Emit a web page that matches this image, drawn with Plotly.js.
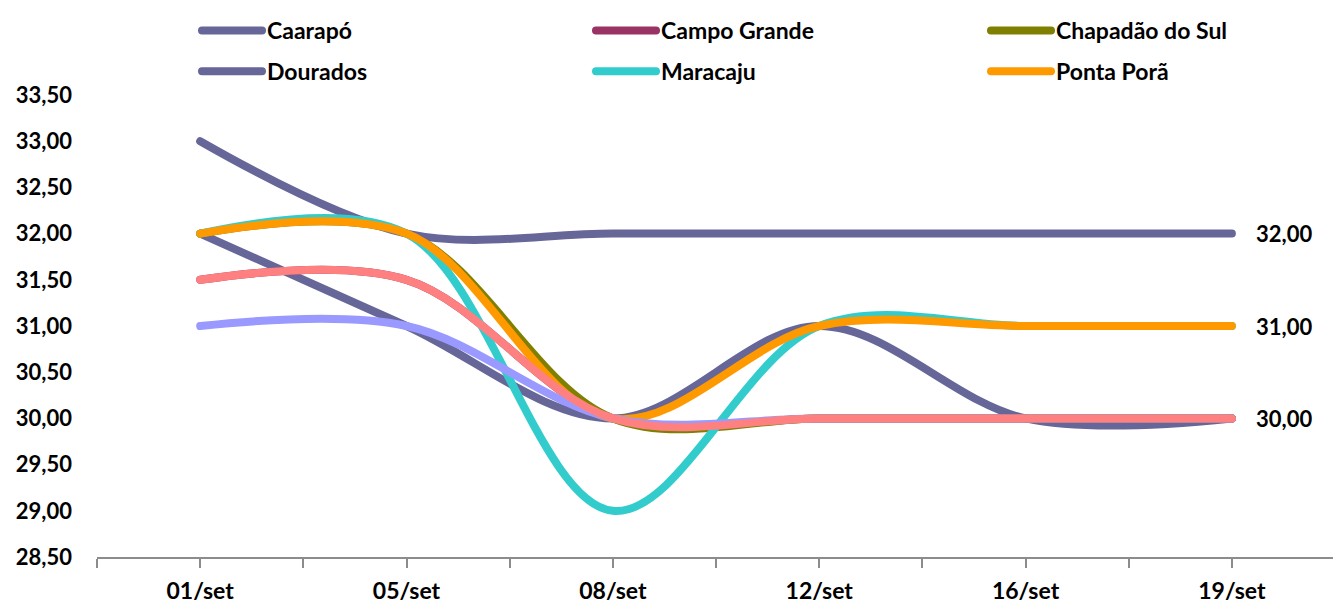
<!DOCTYPE html>
<html>
<head>
<meta charset="utf-8">
<script src="https://cdn.plot.ly/plotly-3.0.1.min.js"></script>
<style>
html,body{margin:0;padding:0;background:#fff;}
#chart{width:1333px;height:604px;}
.scatterlayer .js-line{stroke-linecap:round;stroke-linejoin:round;}
.legendlines path{stroke-linecap:round;}
</style>
</head>
<body>
<div id="chart"></div>
<script>
// ---- data ----
const categories = ["01/set", "05/set", "08/set", "12/set", "16/set", "19/set"];
const seriesNames = ["Caarapó", "Campo Grande", "Chapadão do Sul", "Dourados", "Maracaju", "Ponta Porã", "", ""];
const caarapo      = [32.0, 31.0, 30.0, 31.0, 30.0, 30.0];
const campoGrande  = [31.5, 31.5, 30.0, 30.0, 30.0, 30.0];
const chapadao     = [32.0, 32.0, 30.0, 30.0, 30.0, 30.0];
const dourados     = [33.0, 32.0, 32.0, 32.0, 32.0, 32.0];
const maracaju     = [32.0, 32.0, 29.0, 31.0, 31.0, 31.0];
const pontaPora    = [32.0, 32.0, 30.0, 31.0, 31.0, 31.0];
const serie7       = [31.0, 31.0, 30.0, 30.0, 30.0, 30.0];
const serie8       = [31.5, 31.5, 30.0, 30.0, 30.0, 30.0];
const yTicks = [28.5, 29.0, 29.5, 30.0, 30.5, 31.0, 31.5, 32.0, 32.5, 33.0, 33.5];
// end labels shown on these series
const labelled = [3, 5, 7];

// ---- style ----
const colors = ["#666699", "#993366", "#808000", "#666699", "#33CCCC", "#FF9900", "#9999FF", "#FF8080"];
const allSeries = [caarapo, campoGrande, chapadao, dourados, maracaju, pontaPora, serie7, serie8];
// legend columns: legend (col 1), legend2 (col 2), legend3 (col 3)
const legendOf = ["legend", "legend2", "legend3", "legend", "legend2", "legend3", null, null];
const FONT = "Lato, 'Open Sans', sans-serif";

const xIdx = categories.map((c, i) => i);

const traces = allSeries.map((ys, k) => ({
  type: "scatter",
  mode: "lines",
  name: seriesNames[k],
  x: xIdx,
  y: ys,
  line: {color: colors[k], width: 8, shape: "spline", smoothing: 1},
  showlegend: legendOf[k] !== null,
  legend: legendOf[k] || "legend",
  legendgroup: "g" + k,
  hoverinfo: "skip"
}));

// tick positions (every half category) with labels on categories
const tickVals = [];
const tickText = [];
for (let i = -1; i <= 2 * categories.length - 1; i++) {
  const v = i / 2;
  tickVals.push(v);
  tickText.push(Number.isInteger(v) && v >= 0 && v < categories.length ? categories[v] : "");
}

const fmt = v => v.toFixed(2).replace(".", ",");
const last = categories.length - 1;
const annotations = labelled.map(k => ({
  x: last, y: allSeries[k][last], xref: "x", yref: "y",
  text: fmt(allSeries[k][last]),
  showarrow: false, xanchor: "left", yanchor: "middle", xshift: 22,
  font: {family: FONT, size: 22, color: "#000", weight: 700}
}));

const axisColor = "#8c8c8c";
const legendBase = (xpx) => ({
  orientation: "v", xref: "container", yref: "container",
  x: xpx / 1333, y: 1 - 51 / 604, xanchor: "left", yanchor: "middle",
  itemwidth: 60, tracegroupgap: 8,
  font: {family: FONT, size: 23, color: "#000", weight: 700},
  bgcolor: "rgba(0,0,0,0)", traceorder: "grouped"
});

const layout = {
  width: 1333, height: 604,
  margin: {l: 97, r: 0, t: 95, b: 47, autoexpand: false},
  paper_bgcolor: "#fff", plot_bgcolor: "#fff",
  separators: ",.",
  font: {family: FONT, size: 22, color: "#000", weight: 700},
  showlegend: true,
  xaxis: {
    range: [-0.5, categories.length - 0.51],
    tickmode: "array", tickvals: tickVals, ticktext: tickText,
    ticks: "outside", ticklen: 9, tickwidth: 2, tickcolor: axisColor,
    showline: true, linecolor: axisColor, linewidth: 2,
    showgrid: false, zeroline: false,
    tickfont: {family: FONT, size: 23, color: "#000", weight: 700},
    ticklabelstandoff: 3
  },
  xaxis2: {
    overlaying: "x", anchor: "y", side: "bottom", matches: "x",
    range: [-0.5, categories.length - 0.51],
    tickmode: "array", tickvals: tickVals, ticktext: tickVals.map(() => ""),
    ticks: "inside", ticklen: 9, tickwidth: 2, tickcolor: axisColor,
    showline: false, showgrid: false, zeroline: false, showticklabels: false
  },
  yaxis: {
    range: [28.5, 33.5],
    tickmode: "array", tickvals: yTicks, tickformat: ".2f",
    ticks: "", showline: false, showgrid: false, zeroline: false,
    tickfont: {family: FONT, size: 22, color: "#000", weight: 700},
    ticklabelstandoff: 24
  },
  legend: legendBase(197),
  legend2: legendBase(591),
  legend3: legendBase(986),
  annotations: annotations
};

Plotly.newPlot("chart", traces, layout, {displayModeBar: false, staticPlot: true});
</script>
</body>
</html>
